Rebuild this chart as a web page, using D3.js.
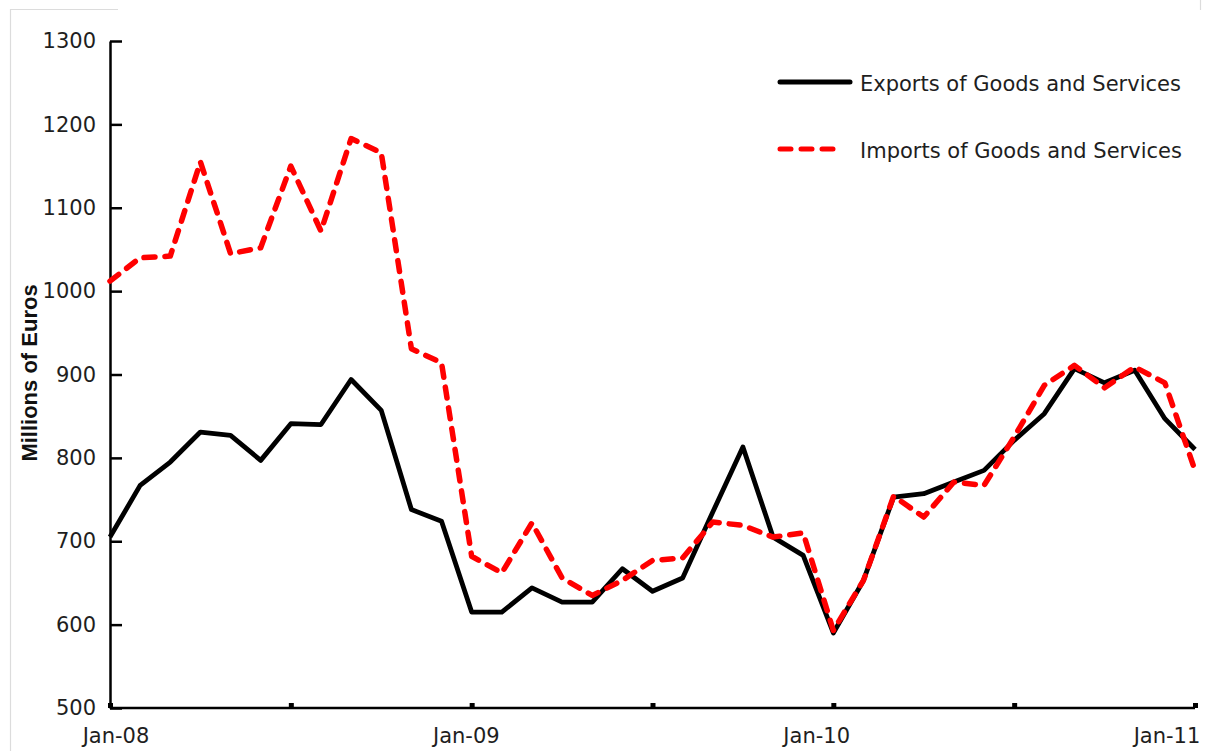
<!DOCTYPE html>
<html>
<head>
<meta charset="utf-8">
<script src="https://cdn.jsdelivr.net/npm/d3@7"></script>
<style>
  html, body { margin: 0; padding: 0; background: #fff; }
  svg { display: block; }
</style>
</head>
<body>
<svg id="chart" width="1227" height="751"></svg>
<script>
// ---- Data (monthly, Jan-2008 .. Jan-2011), millions of euros ----
const months = d3.range(37).map(i => d3.timeFormat("%b-%y")(new Date(2008, i, 1)));
const exportsVals = [705, 767, 795, 831, 827, 797, 841, 840, 894, 857, 738, 724,
                     615, 615, 644, 627, 627, 667, 640, 656, 735, 813, 705, 683,
                     590, 653, 753, 757, 771, 785, 821, 853, 907, 890, 905, 847, 810];
const importsVals = [1012, 1040, 1042, 1155, 1045, 1052, 1150, 1072, 1183, 1166, 931, 914,
                     682, 662, 722, 656, 635, 653, 677, 680, 723, 719, 705, 710,
                     593, 653, 754, 729, 771, 767, 825, 887, 911, 884, 909, 890, 785];
const seriesNames = ["Exports of Goods and Services", "Imports of Goods and Services"];
const yTicks = [500, 600, 700, 800, 900, 1000, 1100, 1200, 1300];
const xTickMonths = [0, 6, 12, 18, 24, 30, 36];
const xLabelMonths = [0, 12, 24, 36];
const xLabels = ["Jan-08", "Jan-09", "Jan-10", "Jan-11"];
const yTitle = "Millions of Euros";

// ---- Layout ----
const svg = d3.select("#chart");
const x = d3.scaleLinear().domain([0, 36]).range([110, 1195]);
const xLab = d3.scaleLinear().domain([0, 36]).range([116, 1167]);
const y = d3.scaleLinear().domain([500, 1300]).range([708, 41]);

// frame remnants
const frame = svg.append("g").attr("stroke", "#dcdcdc").attr("stroke-width", 1.2).attr("fill", "none");
frame.append("path").attr("d", "M10.5,751 V9.5 H118");
frame.append("path").attr("d", "M1200.5,0 V10");

// Y axis
const yAxis = svg.append("g").attr("transform", `translate(${x(0)},0)`)
  .call(d3.axisLeft(y).tickValues(yTicks).tickFormat(d3.format("d"))
    .tickSizeInner(-12).tickSizeOuter(0).tickPadding(14));
yAxis.select(".domain").attr("stroke", "#000").attr("stroke-width", 2.5);
yAxis.selectAll(".tick line").attr("stroke", "#000").attr("stroke-width", 2.5);
yAxis.selectAll(".tick text")
  .attr("font-family", "'DejaVu Sans', Verdana, sans-serif")
  .attr("font-size", 21).attr("fill", "#1e1e1e");

// X axis
const xAxis = svg.append("g").attr("transform", `translate(0,${y(500)})`)
  .call(d3.axisBottom(x).tickValues(xTickMonths).tickSizeInner(-5).tickSizeOuter(0).tickFormat(""));
xAxis.select(".domain").attr("stroke", "#000").attr("stroke-width", 2.5)
  .attr("d", `M${x(0)},0H${x(36)}`);
xAxis.selectAll(".tick line").attr("stroke", "#000").attr("stroke-width", 5);

svg.append("g").selectAll("text").data(xLabelMonths).join("text")
  .attr("x", d => xLab(d)).attr("y", 743)
  .attr("text-anchor", "middle")
  .attr("font-family", "'DejaVu Sans', Verdana, sans-serif")
  .attr("font-size", 21).attr("fill", "#1e1e1e")
  .text((d, i) => xLabels[i]);

// Y title
svg.append("text")
  .attr("transform", "translate(37,373) rotate(-90)")
  .attr("text-anchor", "middle")
  .attr("font-family", "'Liberation Sans', Arial, sans-serif")
  .attr("font-weight", "bold")
  .attr("font-size", 22).attr("fill", "#111")
  .text(yTitle);

// Lines
const line = d3.line().x((d, i) => x(i)).y(d => y(d));

svg.append("path").datum(exportsVals)
  .attr("fill", "none").attr("stroke", "#000").attr("stroke-width", 4.8)
  .attr("stroke-linejoin", "round").attr("d", line);

svg.append("path").datum(importsVals)
  .attr("fill", "none").attr("stroke", "#ff0000").attr("stroke-width", 5.5)
  .attr("stroke-linecap", "round").attr("stroke-linejoin", "round")
  .attr("stroke-dasharray", "11,10")
  .attr("d", line);

// Legend
const legend = svg.append("g");
const legItems = [
  { name: seriesNames[0], color: "#000", dash: null, y: 82, x2: 850 },
  { name: seriesNames[1], color: "#ff0000", dash: "11,10", y: 149, x2: 842 }
];
legItems.forEach(it => {
  legend.append("line").attr("x1", 780).attr("x2", it.x2).attr("y1", it.y).attr("y2", it.y)
    .attr("stroke", it.color).attr("stroke-width", 5)
    .attr("stroke-linecap", "round")
    .attr("stroke-dasharray", it.dash);
  legend.append("text").attr("x", 860).attr("y", it.y + 9)
    .attr("font-family", "'DejaVu Sans', Verdana, sans-serif")
    .attr("font-size", 21).attr("fill", "#1e1e1e")
    .text(it.name);
});
</script>
</body>
</html>
